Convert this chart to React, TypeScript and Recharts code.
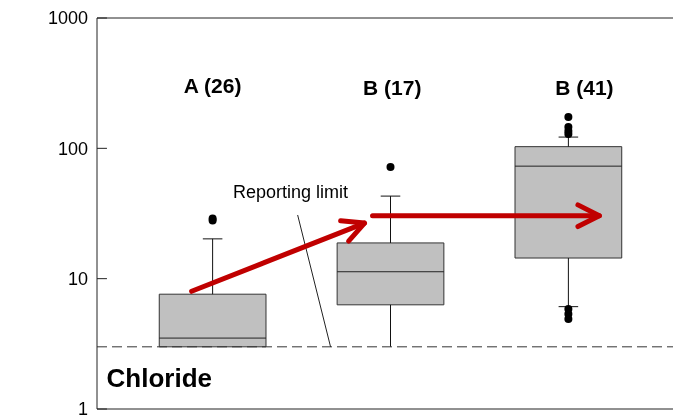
import { ComposedChart, XAxis, YAxis, Scatter, ReferenceArea, ReferenceLine, ReferenceDot } from 'recharts'

const FONT = '"Liberation Sans", Arial, sans-serif'
const RED = '#c00000'

// box plot summary per group
const groups = ['A (26)', 'B (17)', 'B (41)']
const positions = [1, 2, 3]
const labelX = [1.0, 2.01, 3.09]
const labelY = [305, 295, 295]
const q1 = [3, 6.3, 14.4]
const median = [3.5, 11.3, 73]
const q3 = [7.6, 18.8, 103]
const whiskerLow = [3, 3, 6.1]
const whiskerHigh = [20.2, 43, 122]

const outlierX = [1, 1, 2, 3, 3, 3, 3, 3, 3, 3]
const outlierY = [28, 29, 72, 174, 146, 136, 129, 5.85, 5.35, 4.9]

const yTicks = [1, 10, 100, 1000]
const reportingLimit = 3

// trend arrows
const arrowFromX = [0.882, 1.899]
const arrowFromY = [8.0, 30.4]
const arrowToX = [1.854, 3.174]
const arrowToY = [26.7, 30.4]

const outliers = outlierX.map((x, i) => ({ x, y: outlierY[i] }))

const X_MIN = 0.35
const X_MAX = 3.65
const BOX_HALF = 0.3
const CAP_HALF = 0.055

const Arrow = (p: any) => {
    const { x1, y1, x2, y2 } = p
    const ang = Math.atan2(y2 - y1, x2 - x1)
    const len = 24
    const spread = 0.47
    const ax = x2 - len * Math.cos(ang - spread)
    const ay = y2 - len * Math.sin(ang - spread)
    const bx = x2 - len * Math.cos(ang + spread)
    const by = y2 - len * Math.sin(ang + spread)
    return (
        <g>
            <line x1={x1} y1={y1} x2={x2} y2={y2} stroke={RED} strokeWidth={5} strokeLinecap="round" />
            <polyline
                points={`${ax},${ay} ${x2},${y2} ${bx},${by}`}
                fill="none"
                stroke={RED}
                strokeWidth={5}
                strokeLinecap="round"
                strokeLinejoin="round"
            />
        </g>
    )
}

export default function App() {
    return (
        <div style={{ position: 'fixed', top: 8, left: 8, width: 665, height: 407, overflow: 'hidden' }}>
            <ComposedChart width={700} height={407} margin={{ top: 10, right: 24, bottom: 6, left: 0 }}>
                <XAxis type="number" dataKey="x" domain={[X_MIN, X_MAX]} hide allowDataOverflow />
                <YAxis
                    type="number"
                    dataKey="y"
                    scale="log"
                    domain={[1, 1000]}
                    ticks={yTicks}
                    interval={0}
                    allowDataOverflow
                    width={89}
                    axisLine={{ stroke: '#222' }}
                    tickLine={false}
                    tickSize={0}
                    tickMargin={9}
                    tick={{ fontSize: 18, fill: '#000', fontFamily: FONT }}
                />

                {/* frame + inward ticks */}
                <ReferenceLine y={1000} stroke="#222" />
                <ReferenceLine y={1} stroke="#222" />
                {yTicks.map((t) => (
                    <ReferenceLine
                        key={`tk-${t}`}
                        segment={[{ x: X_MIN, y: t }, { x: X_MIN + 0.056, y: t }]}
                        stroke="#222"
                    />
                ))}

                {/* whiskers */}
                {positions.map((x, i) => (
                    <ReferenceLine
                        key={`wh-${i}`}
                        segment={[{ x, y: q3[i] }, { x, y: whiskerHigh[i] }]}
                        stroke="#111"
                    />
                ))}
                {positions.map((x, i) => (
                    <ReferenceLine
                        key={`cap-${i}`}
                        segment={[{ x: x - CAP_HALF, y: whiskerHigh[i] }, { x: x + CAP_HALF, y: whiskerHigh[i] }]}
                        stroke="#111"
                    />
                ))}
                {positions.map((x, i) =>
                    whiskerLow[i] < q1[i] ? (
                        <ReferenceLine
                            key={`wl-${i}`}
                            segment={[{ x, y: q1[i] }, { x, y: whiskerLow[i] }]}
                            stroke="#111"
                        />
                    ) : null
                )}
                {positions.map((x, i) =>
                    whiskerLow[i] > reportingLimit ? (
                        <ReferenceLine
                            key={`capl-${i}`}
                            segment={[{ x: x - CAP_HALF, y: whiskerLow[i] }, { x: x + CAP_HALF, y: whiskerLow[i] }]}
                            stroke="#111"
                        />
                    ) : null
                )}

                {/* boxes */}
                {positions.map((x, i) => (
                    <ReferenceArea
                        key={`box-${i}`}
                        x1={x - BOX_HALF}
                        x2={x + BOX_HALF}
                        y1={q1[i]}
                        y2={q3[i]}
                        fill="#c0c0c0"
                        fillOpacity={1}
                        stroke="#333"
                        strokeWidth={1}
                    />
                ))}
                {positions.map((x, i) => (
                    <ReferenceLine
                        key={`med-${i}`}
                        segment={[{ x: x - BOX_HALF, y: median[i] }, { x: x + BOX_HALF, y: median[i] }]}
                        stroke="#222"
                    />
                ))}

                {/* reporting limit */}
                <ReferenceLine y={reportingLimit} stroke="#333" strokeDasharray="10 5" />
                <ReferenceLine segment={[{ x: 1.478, y: 30.8 }, { x: 1.663, y: reportingLimit }]} stroke="#222" />

                <Scatter
                    data={outliers}
                    isAnimationActive={false}
                    shape={(p: any) => <circle cx={p.cx} cy={p.cy} r={4} fill="#000" />}
                />

                {/* trend arrows */}
                {arrowFromX.map((x, i) => (
                    <ReferenceLine
                        key={`ar-${i}`}
                        segment={[{ x, y: arrowFromY[i] }, { x: arrowToX[i], y: arrowToY[i] }]}
                        shape={Arrow}
                    />
                ))}

                {/* texts */}
                {groups.map((g, i) => (
                    <ReferenceDot
                        key={`lab-${i}`}
                        x={labelX[i]}
                        y={labelY[i]}
                        shape={(p: any) => (
                            <text
                                x={p.cx}
                                y={p.cy}
                                textAnchor="middle"
                                dominantBaseline="central"
                                fontFamily={FONT}
                                fontWeight="bold"
                                fontSize={21}
                                fill="#000"
                            >
                                {g}
                            </text>
                        )}
                    />
                ))}
                <ReferenceDot
                    x={1.438}
                    y={46}
                    shape={(p: any) => (
                        <text
                            x={p.cx}
                            y={p.cy}
                            textAnchor="middle"
                            dominantBaseline="central"
                            fontFamily={FONT}
                            fontSize={18}
                            fill="#000"
                        >
                            Reporting limit
                        </text>
                    )}
                />
                <ReferenceDot
                    x={0.404}
                    y={1.73}
                    shape={(p: any) => (
                        <text
                            x={p.cx}
                            y={p.cy}
                            textAnchor="start"
                            dominantBaseline="central"
                            fontFamily={FONT}
                            fontWeight="bold"
                            fontSize={26}
                            fill="#000"
                        >
                            Chloride
                        </text>
                    )}
                />
            </ComposedChart>
        </div>
    )
}
